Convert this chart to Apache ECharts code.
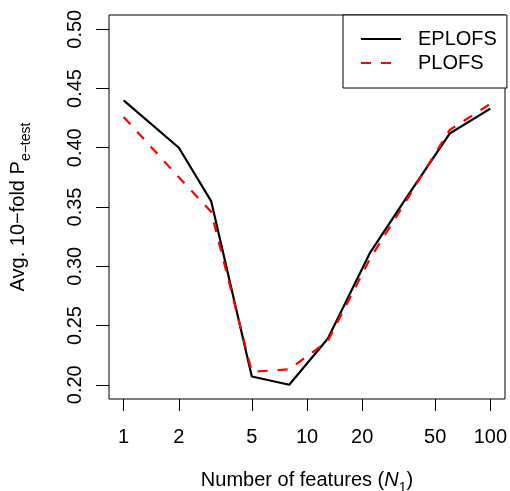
<!DOCTYPE html>
<html>
<head>
<meta charset="utf-8">
<title>EPLOFS vs PLOFS</title>
<script src="https://cdn.jsdelivr.net/npm/echarts@6/dist/echarts.min.js"></script>
<style>
  html, body { margin: 0; padding: 0; background: #fff; }
  #main { width: 510px; height: 491px; }
</style>
</head>
<body>
<div id="main"></div>
<script>
// data
var features = [1, 2, 3, 5, 8, 13, 22, 36, 60, 100];
var eplofs = [0.440, 0.400, 0.355, 0.207, 0.200, 0.239, 0.311, 0.361, 0.412, 0.433];
var plofs = [0.426, 0.375, 0.346, 0.211, 0.213, 0.237, 0.306, 0.359, 0.415, 0.437];
var xTicks = [1, 2, 5, 10, 20, 50, 100];
var yTicks = [0.20, 0.25, 0.30, 0.35, 0.40, 0.45, 0.50];

function pairs(xs, ys) {
    return xs.map(function (x, i) { return [x, ys[i]]; });
}

var FONT = 'Liberation Sans';
var chart = echarts.init(document.getElementById('main'), null, { renderer: 'canvas' });

var option = {
    animation: false,
    backgroundColor: '#fff',
    textStyle: { fontFamily: FONT, color: '#000' },
    grid: {
        left: 109, top: 15, right: 5, bottom: 92,
        outerBoundsMode: 'none',
        containLabel: false,
        show: true, borderColor: '#000', borderWidth: 1,
        backgroundColor: 'transparent'
    },
    legend: {
        orient: 'vertical',
        left: 343, top: 15,
        padding: [14, 10, 15, 17],
        itemWidth: 40, itemHeight: 14, itemGap: 4,
        borderColor: '#000', borderWidth: 1,
        backgroundColor: '#fff',
        itemStyle: { opacity: 0 },
        textStyle: { fontFamily: FONT, fontSize: 20, color: '#000', padding: [0, 0, 0, 12] },
        data: ['EPLOFS', 'PLOFS']
    },
    xAxis: {
        type: 'log',
        logBase: 10,
        min: Math.pow(10, -0.08),
        max: Math.pow(10, 2.08),
        axisLine: { show: false },
        splitLine: { show: false },
        axisTick: { show: true, customValues: xTicks, length: 12, inside: false,
                    lineStyle: { color: '#000', width: 1 } },
        axisLabel: { customValues: xTicks, margin: 28, fontSize: 20, color: '#000', fontFamily: FONT,
                     formatter: function (v) { return String(Math.round(v)); } },
        name: '{a|Number of features (}{i|N}{s|1}{a|)}',
        nameLocation: 'middle',
        nameGap: 66,
        nameTextStyle: {
            rich: {
                a: { fontSize: 20, fontFamily: FONT, color: '#000', lineHeight: 30, verticalAlign: 'middle' },
                i: { fontSize: 20, fontFamily: FONT, color: '#000', fontStyle: 'italic', lineHeight: 30, verticalAlign: 'middle' },
                s: { fontSize: 14, fontFamily: FONT, color: '#000', lineHeight: 14, verticalAlign: 'bottom' }
            }
        }
    },
    yAxis: {
        type: 'value',
        min: 0.188,
        max: 0.512,
        axisLine: { show: false },
        splitLine: { show: false },
        axisTick: { show: true, customValues: yTicks, length: 13,
                    lineStyle: { color: '#000', width: 1 } },
        axisLabel: { customValues: yTicks, rotate: 90, margin: 24, fontSize: 20, color: '#000', fontFamily: FONT,
                     formatter: function (v) { return v.toFixed(2); } },
        name: '{a|Avg. 10\u2212fold P}{s|e\u2212test}',
        nameLocation: 'middle',
        nameRotate: 90,
        nameGap: 76,
        nameTextStyle: {
            rich: {
                a: { fontSize: 20, fontFamily: FONT, color: '#000', lineHeight: 30, verticalAlign: 'middle' },
                s: { fontSize: 14, fontFamily: FONT, color: '#000', lineHeight: 14, verticalAlign: 'bottom' }
            }
        }
    },
    series: [
        {
            name: 'EPLOFS',
            type: 'line',
            symbol: 'none',
            data: pairs(features, eplofs),
            lineStyle: { color: '#000', width: 2.2, type: 'solid' },
            itemStyle: { color: '#000' }
        },
        {
            name: 'PLOFS',
            type: 'line',
            symbol: 'none',
            data: pairs(features, plofs),
            lineStyle: { color: '#ff0000', width: 2.2, type: [10, 10] },
            itemStyle: { color: '#ff0000' }
        }
    ]
};

chart.setOption(option);
</script>
</body>
</html>
